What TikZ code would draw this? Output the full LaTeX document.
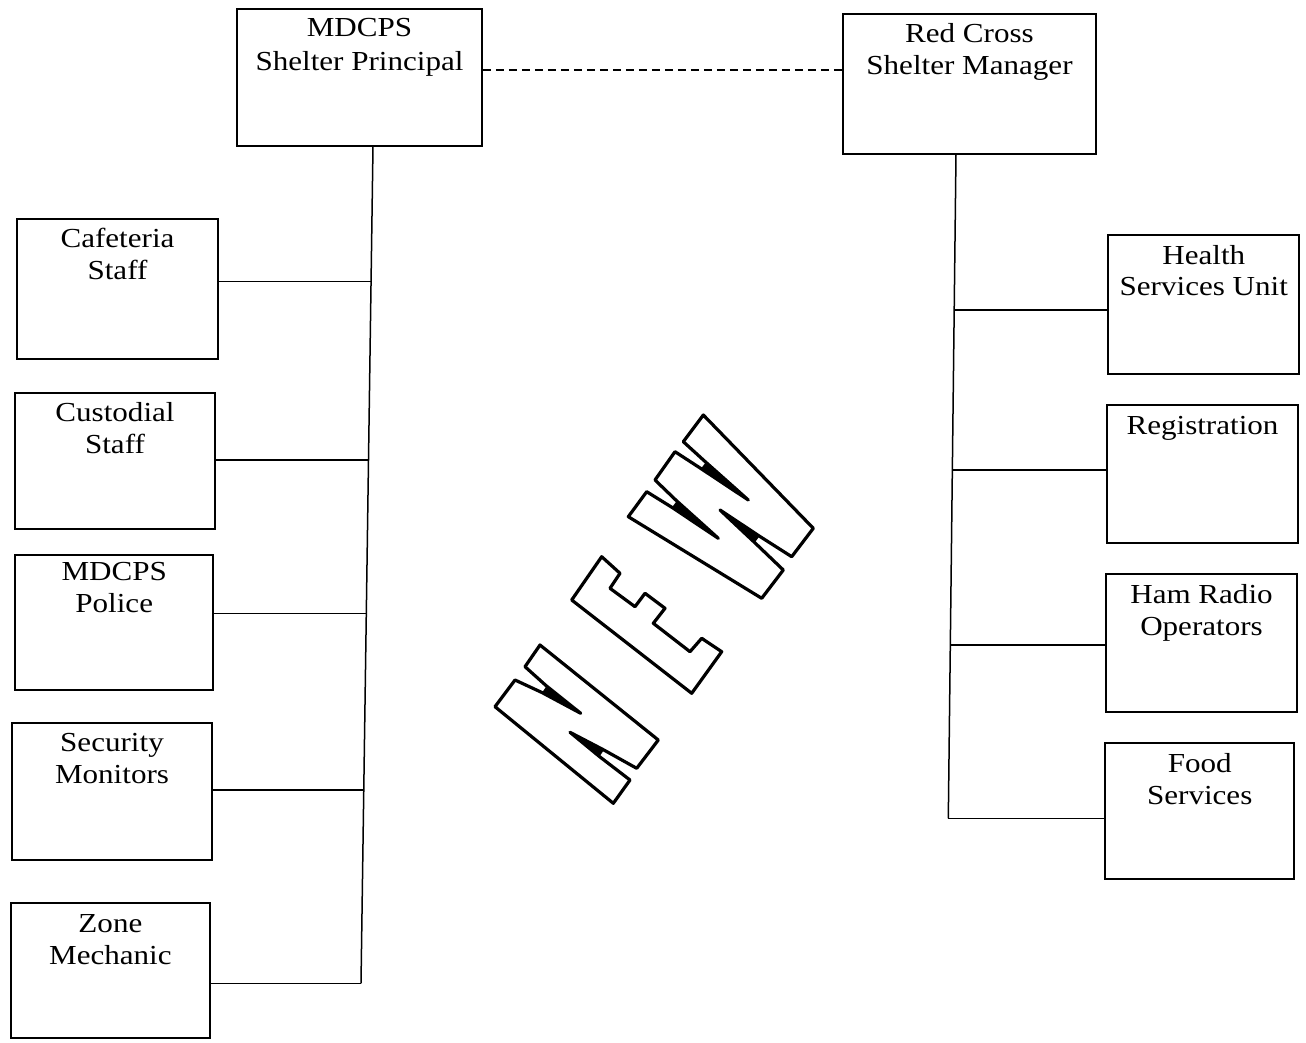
\documentclass[tikz,border=0pt]{standalone}
\usepackage{fontspec}
\setmainfont{Liberation Serif}[FakeStretch=1.13]
\usetikzlibrary{calc}
\begin{document}
\begin{tikzpicture}[x=1pt,y=1pt,
  box/.style 2 args={draw, line width=1.7pt, minimum width=#1pt, minimum height=#2pt, inner sep=0pt},
  conn/.style={line width=1.5pt},
  dashline/.style={line width=1.4pt, dash pattern=on 8pt off 5pt},
  ln/.style={anchor=base, inner sep=0pt, font=\fontsize{27.5}{32}\selectfont},
  stamp/.style={line width=3.2pt, line join=round},
  wedge/.style={fill=black}]
\useasboundingbox (0,0) rectangle (1306,-1043);

% top boxes
\node[box={245}{137}] (prin) at (359.5,-77.5) {};
\node[ln] at ([yshift=-28pt]prin.north) {MDCPS};
\node[ln] at ([yshift=-62pt]prin.north) {Shelter Principal};
\node[box={253}{140}] (mgr) at (969.5,-84) {};
\node[ln] at ([yshift=-29.3pt]mgr.north) {Red Cross};
\node[ln] at ([yshift=-61pt]mgr.north) {Shelter Manager};
\coordinate (dy) at (600,-70);
\draw[dashline] (prin.east |- dy) -- (mgr.west |- dy);

% left boxes
\node[box={201.6}{140}] (caf) at (117.5,-289) {};
\node[ln] at ([yshift=-29.3pt]caf.north) {Cafeteria};
\node[ln] at ([yshift=-61pt]caf.north) {Staff};
\node[box={200}{136}] (cust) at (115,-461) {};
\node[ln] at ([yshift=-29pt]cust.north) {Custodial};
\node[ln] at ([yshift=-61pt]cust.north) {Staff};
\node[box={198}{135}] (pol) at (114.2,-622.5) {};
\node[ln] at ([yshift=-26.7pt]pol.north) {MDCPS};
\node[ln] at ([yshift=-58.3pt]pol.north) {Police};
\node[box={200}{137}] (sec) at (112,-791.5) {};
\node[ln] at ([yshift=-29pt]sec.north) {Security};
\node[ln] at ([yshift=-61pt]sec.north) {Monitors};
\node[box={199}{135}] (zone) at (110.4,-970.7) {};
\node[ln] at ([yshift=-30pt]zone.north) {Zone};
\node[ln] at ([yshift=-61.7pt]zone.north) {Mechanic};

% right boxes
\node[box={191}{139}] (hsu) at (1203.8,-304.5) {};
\node[ln] at ([yshift=-30pt]hsu.north) {Health};
\node[ln] at ([yshift=-61pt]hsu.north) {Services Unit};
\node[box={191}{138}] (reg) at (1202.5,-474) {};
\node[ln] at ([yshift=-30pt]reg.north) {Registration};
\node[box={191}{138}] (ham) at (1201.5,-643) {};
\node[ln] at ([yshift=-30pt]ham.north) {Ham Radio};
\node[ln] at ([yshift=-62pt]ham.north) {Operators};
\node[box={189}{136}] (food) at (1199.7,-811) {};
\node[ln] at ([yshift=-30pt]food.north) {Food};
\node[ln] at ([yshift=-62.7pt]food.north) {Services};

% left spine
\coordinate (lt) at (373,-146);
\coordinate (lb) at (361,-983.3);
\coordinate (l1) at (371.1,-281.7);
\coordinate (l2) at (368.5,-460);
\coordinate (l3) at (366.3,-613.3);
\coordinate (l4) at (363.8,-790);
\draw[conn] (lt) -- (lb);
\draw[conn] (caf.east |- l1) -- (l1);
\draw[conn] (cust.east |- l2) -- (l2);
\draw[conn] (pol.east |- l3) -- (l3);
\draw[conn] (sec.east |- l4) -- (l4);
\draw[conn] (zone.east |- lb) -- (lb);

% right spine
\coordinate (rt) at (956,-154);
\coordinate (rb) at (948.3,-818.3);
\coordinate (r1) at (954.2,-310);
\coordinate (r2) at (952.3,-470);
\coordinate (r3) at (950.3,-645);
\draw[conn] (rt) -- (rb);
\draw[conn] (r1) -- (hsu.west |- r1);
\draw[conn] (r2) -- (reg.west |- r2);
\draw[conn] (r3) -- (ham.west |- r3);
\draw[conn] (rb) -- (food.west |- rb);

% NEW stamp
\fill[wedge] (542.1,-692.6) -- (580.7,-713.3) -- (546.5,-686) -- cycle;
\fill[wedge] (603.9,-750) -- (570,-732.3) -- (599.5,-756.6) -- cycle;
\draw[stamp] (495,-706.7) -- (515,-680) -- (542.1,-692.6) -- (580.7,-713.3) -- (546.5,-686) -- (525,-666.7) -- (540,-645) -- (658.3,-740) -- (636.7,-768.3) -- (603.9,-750) -- (570,-732.3) -- (599.5,-756.6) -- (630,-780) -- (613.3,-803.3) -- cycle;
\draw[stamp] (571.7,-600) -- (601.7,-556.7) -- (620,-573.3) -- (610,-588.3) -- (635,-606.7) -- (645,-593.3) -- (665,-608.3) -- (653.3,-623.3) -- (690,-651.7) -- (701.7,-638.3) -- (721.7,-651.7) -- (691.7,-693.3) -- cycle;
\fill[wedge] (672,-507.4) -- (718.3,-538.3) -- (676.8,-501) -- cycle;
\fill[wedge] (701,-468.6) -- (748.3,-500) -- (705.8,-462.2) -- cycle;
\fill[wedge] (759.5,-536.2) -- (720,-510) -- (754.7,-542.6) -- cycle;
\draw[stamp] (628.3,-516.7) -- (646.7,-491.7) -- (672,-507.4) -- (718.3,-538.3) -- (676.8,-501) -- (655,-480) -- (675,-451.7) -- (701,-468.6) -- (748.3,-500) -- (705.8,-462.2) -- (683.3,-441.7) -- (703.3,-415) -- (813.3,-528.3) -- (791.7,-556.7) -- (759.5,-536.2) -- (720,-510) -- (754.7,-542.6) -- (783.3,-570) -- (761.7,-598.3) -- cycle;
\end{tikzpicture}
\end{document}
